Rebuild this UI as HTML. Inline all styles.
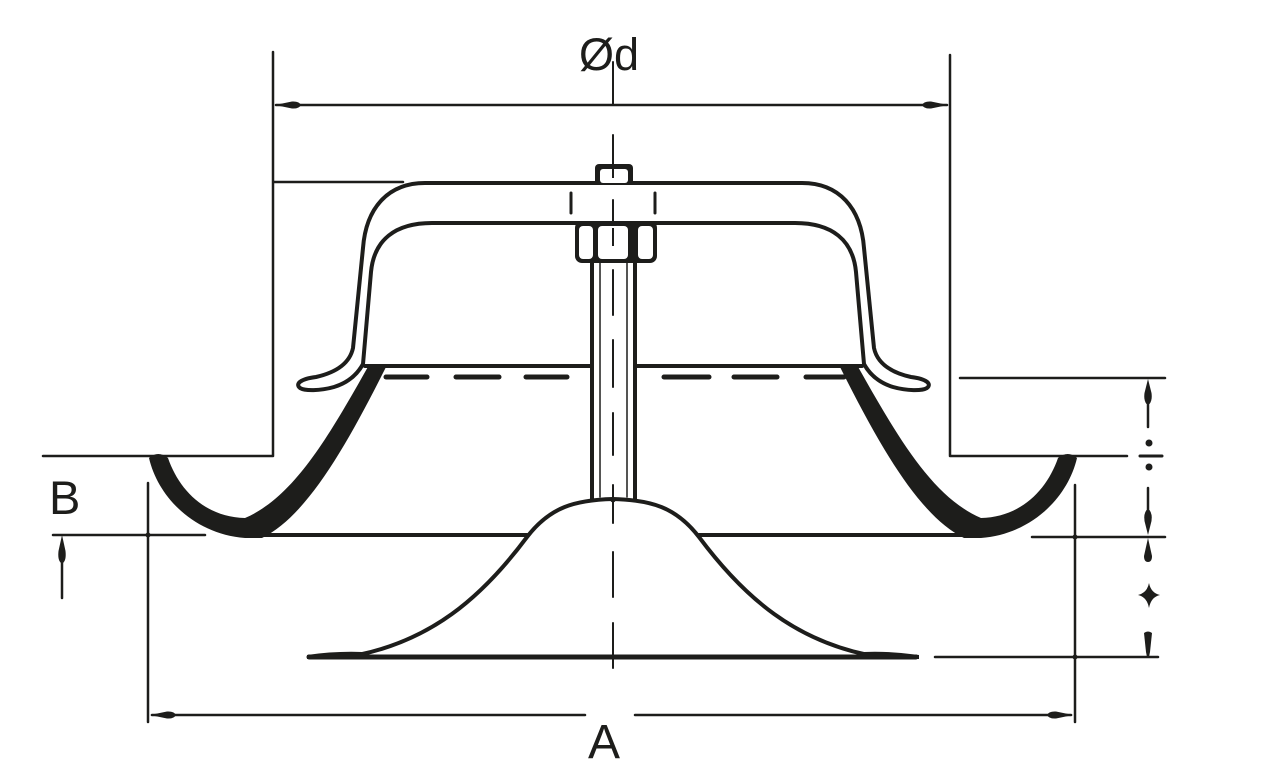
<!DOCTYPE html>
<html>
<head>
<meta charset="utf-8">
<style>
html,body{margin:0;padding:0;background:#fff;}
svg{display:block;}
text{font-family:"Liberation Sans",sans-serif;fill:#1d1d1b;}
</style>
</head>
<body>
<svg width="1270" height="783" viewBox="0 0 1270 783" xmlns="http://www.w3.org/2000/svg">
<g stroke="#1d1d1b" fill="none" stroke-linecap="round" stroke-linejoin="round">

<!-- Opening outline / extension lines -->
<path d="M43 456 L273 456 L273 52" stroke-width="2.5"/>
<path d="M1127 456 L950 456 L950 55" stroke-width="2.5"/>
<line x1="274" y1="182" x2="403" y2="182" stroke-width="2.5"/>
<line x1="960" y1="378" x2="1165" y2="378" stroke-width="2.5"/>

<!-- Ød dimension -->
<line x1="276" y1="105" x2="947" y2="105" stroke-width="2.5"/>
<line x1="613" y1="62" x2="613" y2="105" stroke-width="2"/>

<!-- A dimension -->
<line x1="148" y1="483" x2="148" y2="722" stroke-width="2.5"/>
<line x1="1075" y1="485" x2="1075" y2="722" stroke-width="2.5"/>
<line x1="152" y1="715" x2="585" y2="715" stroke-width="2.5"/>
<line x1="635" y1="715" x2="1071" y2="715" stroke-width="2.5"/>

<!-- B dimension -->
<line x1="53" y1="535" x2="205" y2="535" stroke-width="2.5"/>
<line x1="62" y1="558" x2="62" y2="598" stroke-width="2.5"/>

<!-- right dimension lines -->
<line x1="1032" y1="537" x2="1165" y2="537" stroke-width="2.5"/>
<line x1="935" y1="657" x2="1158" y2="657" stroke-width="2.5"/>
<line x1="1148" y1="398" x2="1148" y2="427" stroke-width="2.5"/>
<line x1="1148" y1="488" x2="1148" y2="515" stroke-width="2.5"/>
<line x1="1140" y1="456" x2="1162" y2="456" stroke-width="3"/>

<!-- Cap (left half + mirrored right half) -->
<path d="M613 183 L425 183 C388 183 366 208 363 248 L353 348 C350 362 338 372 316 377 C300 379 295 384 300 388 C305 391 320 391 334 387 C347 383 357 375 363 364 L371 272 C374 240 395 223 432 223 L613 223" stroke-width="4"/>
<g transform="translate(1227,0) scale(-1,1)">
<path d="M613 183 L425 183 C388 183 366 208 363 248 L353 348 C350 362 338 372 316 377 C300 379 295 384 300 388 C305 391 320 391 334 387 C347 383 357 375 363 364 L371 272 C374 240 395 223 432 223 L613 223" stroke-width="4"/>
</g>

<!-- hidden thread ticks -->
<line x1="571" y1="193" x2="571" y2="213" stroke-width="3"/>
<line x1="655" y1="193" x2="655" y2="213" stroke-width="3"/>

<!-- rim line -->
<line x1="365" y1="366" x2="592" y2="366" stroke-width="4"/>
<line x1="635" y1="366" x2="862" y2="366" stroke-width="4"/>

<!-- dashed line -->
<g stroke-width="5">
<line x1="386" y1="377" x2="427" y2="377"/>
<line x1="456" y1="377" x2="499" y2="377"/>
<line x1="526" y1="377" x2="567" y2="377"/>
<line x1="664" y1="377" x2="709" y2="377"/>
<line x1="734" y1="377" x2="777" y2="377"/>
<line x1="806" y1="377" x2="844" y2="377"/>
</g>

<!-- rod -->
<line x1="592" y1="262" x2="592" y2="499" stroke-width="4"/>
<line x1="635" y1="262" x2="635" y2="499" stroke-width="4"/>
<line x1="600" y1="262" x2="600" y2="497" stroke-width="1.5"/>
<line x1="627" y1="262" x2="627" y2="497" stroke-width="1.5"/>

<!-- lower horizontal lines -->
<line x1="248" y1="535" x2="527" y2="535" stroke-width="4"/>
<line x1="699" y1="535" x2="985" y2="535" stroke-width="4"/>

<!-- cone -->
<path d="M358 655 C430 640 480 600 527 537 C550 507 575 500 613 499 C651 500 676 507 699 537 C746 600 796 640 868 655" stroke-width="4"/>
<line x1="309" y1="657" x2="916" y2="657" stroke-width="5"/>

<!-- centre line -->
<g stroke-width="2">
<line x1="613" y1="135" x2="613" y2="165"/>
<line x1="613" y1="200" x2="613" y2="222"/>
<line x1="613" y1="270" x2="613" y2="315"/>
<line x1="613" y1="340" x2="613" y2="387"/>
<line x1="613" y1="413" x2="613" y2="455"/>
<line x1="613" y1="485" x2="613" y2="523"/>
<line x1="613" y1="552" x2="613" y2="597"/>
<line x1="613" y1="623" x2="613" y2="668"/>
</g>
</g>

<!-- filled shapes -->
<g fill="#1d1d1b" stroke="none">
<!-- bowls -->
<path d="M149 458 C158 497 194 534 245 538 L262 538 C307 516 347 445 387 365 L369 365 C329 436 294 497 245 518 C205 517 179 490 168 458 Q158 450 149 458 Z"/>
<path transform="translate(1226,0) scale(-1,1)" d="M149 458 C158 497 194 534 245 538 L262 538 C307 516 347 445 387 365 L369 365 C329 436 294 497 245 518 C205 517 179 490 168 458 Q158 450 149 458 Z"/>

<!-- cone foot wedges -->
<path d="M307 655 Q335 651 362 652 L362 659 L307 659 Z"/>
<path d="M919 655 Q891 651 864 652 L864 659 L919 659 Z"/>

<!-- bolt head -->
<rect x="595" y="164" width="38" height="21" rx="4"/>
<!-- nut -->
<rect x="575" y="221" width="82" height="42" rx="7"/>

<!-- arrowheads Ød -->
<path d="M275 105 L292 101.5 Q299 101 301 105 Q299 109 292 108.5 Z"/>
<path d="M948 105 L931 101.5 Q924 101 922 105 Q924 109 931 108.5 Z"/>
<!-- arrowheads A -->
<path d="M150 715 L167 711.5 Q174 711 176 715 Q174 719 167 718.5 Z"/>
<path d="M1073 715 L1056 711.5 Q1049 711 1047 715 Q1049 719 1056 718.5 Z"/>
<!-- B arrow -->
<path d="M62 535 L65.5 551 Q66.5 560 63 563 L61 563 Q57.5 560 58.5 551 Z"/>
<!-- right column -->
<path d="M1148 379 L1151.5 393 Q1152.5 400 1149.5 404 L1146.5 404 Q1143.5 400 1144.5 393 Z"/>
<circle cx="1149" cy="443" r="3.5"/>
<circle cx="1149" cy="467" r="3.5"/>
<path d="M1148 535 L1151.5 521 Q1152.5 514 1149.5 510 L1146.5 510 Q1143.5 514 1144.5 521 Z"/>
<path d="M1148 538 L1152 556 Q1152 562 1148 562 Q1144 562 1144 556 Z"/>
<path d="M1149 583 Q1151 593 1160 595 Q1151 597 1149 608 Q1147 597 1138 595 Q1147 593 1149 583 Z"/>
<path d="M1144 633 Q1148 630 1152 633 L1150 652 L1149 657 L1147 657 L1146 652 Z"/>

<!-- intersection marks -->
<circle cx="148" cy="535" r="2.5"/>
<circle cx="1075" cy="537" r="2.5"/>
<circle cx="1075" cy="657" r="2.5"/>
<circle cx="613" cy="657" r="2.5"/>
<circle cx="613" cy="500" r="2.5"/>
</g>

<!-- white interiors of bolt head & nut -->
<g fill="#fff" stroke="none">
<rect x="600" y="169" width="28" height="14" rx="3"/>
<rect x="579" y="226" width="14" height="33" rx="4"/>
<rect x="598" y="226" width="30" height="33" rx="4"/>
<rect x="638" y="226" width="15" height="33" rx="4"/>
</g>
<g stroke="#1d1d1b" stroke-width="2">
<line x1="613" y1="169" x2="613" y2="178"/>
<line x1="613" y1="228" x2="613" y2="246"/>
</g>

<!-- labels -->
<text x="579" y="70" font-size="45">Ød</text>
<text x="604" y="758" font-size="48" text-anchor="middle">A</text>
<text x="49" y="514" font-size="47">B</text>
</svg>
</body>
</html>
